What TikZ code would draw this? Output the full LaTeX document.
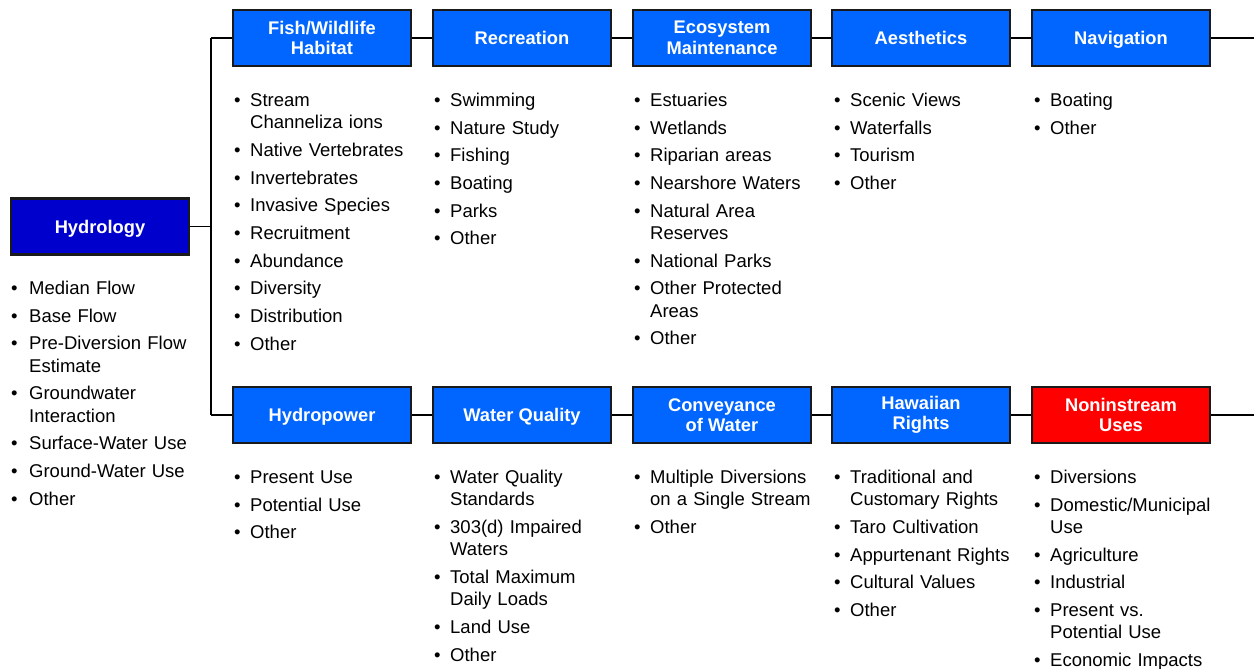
\documentclass[tikz,border=0pt]{standalone}
\usepackage{fontspec}
\setmainfont{Liberation Sans}
\definecolor{hydblue}{HTML}{0000CC}
\definecolor{boxblue}{HTML}{0066FF}
\definecolor{boxred}{HTML}{FF0000}
\definecolor{edge}{HTML}{1A1A1A}
\newcommand\bitem[1]{\hangindent=16pt\hangafter=1\noindent\makebox[16pt][l]{\textbullet}#1\par}
\newcommand\bitemh[1]{\hangindent=18pt\hangafter=1\noindent\makebox[18pt][l]{\textbullet}#1\par}
\newcommand\nodepth[1]{\raisebox{0pt}[\height][0pt]{#1}}
\tikzset{
  titlebox/.style={draw=edge, line width=2.4pt, fill=boxblue, text=white,
    minimum width=178pt, minimum height=56pt, inner sep=0pt, align=center,
    font=\fontsize{18.3}{20.5}\selectfont\bfseries},
  listnode/.style={anchor=base west, inner sep=0pt, text width=230pt,
    font=\fontsize{18.5}{22.3}\selectfont\setlength{\parskip}{5.4pt}\raggedright},
  conn/.style={line width=1.8pt, draw=black}
}
\begin{document}
\begin{tikzpicture}[x=1pt,y=-1pt]
\useasboundingbox[fill=white] (0,0) rectangle (1254,669);
% boxes
\node[titlebox, fill=hydblue] (hyd) at (100,226.5) {\nodepth{Hydrology}};
\node[titlebox] (fish) at (322,38) {Fish/Wildlife\\Habitat};
\node[titlebox] (rec) at (522,38) {Recreation};
\node[titlebox] (eco) at (722,38) {Ecosystem\\Maintenance};
\node[titlebox] (aes) at (921,38) {Aesthetics};
\node[titlebox] (nav) at (1121,38) {\nodepth{Navigation}};
\node[titlebox] (hp) at (322,415) {\nodepth{Hydropower}};
\node[titlebox] (wq) at (522,415) {\nodepth{Water Quality}};
\node[titlebox] (conv) at (722,415) {Conveyance\\of Water};
\node[titlebox] (haw) at (921,415) {Hawaiian\\Rights};
\node[titlebox, fill=boxred] (non) at (1121,415) {Noninstream\\Uses};
% connectors
\coordinate (jt) at (211,38);
\coordinate (jm) at (211,226.5);
\coordinate (jb) at (211,415);
\coordinate (et) at (1254,38);
\coordinate (eb) at (1254,415);
\draw[conn] (jt) -- (jb);
\draw[conn] (hyd.east) -- (jm);
\draw[conn] (jt) -- (fish.west);
\draw[conn] (jb) -- (hp.west);
\draw[conn] (fish.east) -- (rec.west);
\draw[conn] (rec.east) -- (eco.west);
\draw[conn] (eco.east) -- (aes.west);
\draw[conn] (aes.east) -- (nav.west);
\draw[conn] (nav.east) -- (et);
\draw[conn] (hp.east) -- (wq.west);
\draw[conn] (wq.east) -- (conv.west);
\draw[conn] (conv.east) -- (haw.west);
\draw[conn] (haw.east) -- (non.west);
\draw[conn] (non.east) -- (eb);
% lists
\node[listnode] (lhyd) at (11,294.5) {%
\bitemh{Median Flow}\bitemh{Base Flow}\bitemh{Pre-Diversion Flow\newline Estimate}%
\bitemh{Groundwater\newline Interaction}\bitemh{Surface-Water Use}\bitemh{Ground-Water Use}\bitemh{Other}};
\node[listnode] (lfish) at (234,106.5) {%
\bitem{Stream\newline Channeliza ions}\bitem{Native Vertebrates}\bitem{Invertebrates}%
\bitem{Invasive Species}\bitem{Recruitment}\bitem{Abundance}\bitem{Diversity}%
\bitem{Distribution}\bitem{Other}};
\node[listnode] (lrec) at (434,106.5) {%
\bitem{Swimming}\bitem{Nature Study}\bitem{Fishing}\bitem{Boating}\bitem{Parks}\bitem{Other}};
\node[listnode] (leco) at (634,106.5) {%
\bitem{Estuaries}\bitem{Wetlands}\bitem{Riparian areas}\bitem{Nearshore Waters}%
\bitem{Natural Area\newline Reserves}\bitem{National Parks}\bitem{Other Protected\newline Areas}\bitem{Other}};
\node[listnode] (laes) at (834,106.5) {%
\bitem{Scenic Views}\bitem{Waterfalls}\bitem{Tourism}\bitem{Other}};
\node[listnode] (lnav) at (1034,106.5) {%
\bitem{Boating}\bitem{Other}};
\node[listnode] (lhp) at (234,483.5) {%
\bitem{Present Use}\bitem{Potential Use}\bitem{Other}};
\node[listnode] (lwq) at (434,483.5) {%
\bitem{Water Quality\newline Standards}\bitem{303(d) Impaired\newline Waters}\bitem{Total Maximum\newline Daily Loads}%
\bitem{Land Use}\bitem{Other}};
\node[listnode] (lconv) at (634,483.5) {%
\bitem{Multiple Diversions\newline on a Single Stream}\bitem{Other}};
\node[listnode] (lhaw) at (834,483.5) {%
\bitem{Traditional and\newline Customary Rights}\bitem{Taro Cultivation}\bitem{Appurtenant Rights}%
\bitem{Cultural Values}\bitem{Other}};
\node[listnode] (lnon) at (1034,483.5) {%
\bitem{Diversions}\bitem{Domestic/Municipal\newline Use}\bitem{Agriculture}\bitem{Industrial}%
\bitem{Present vs.\newline Potential Use}\bitem{Economic Impacts}};
\end{tikzpicture}
\end{document}
